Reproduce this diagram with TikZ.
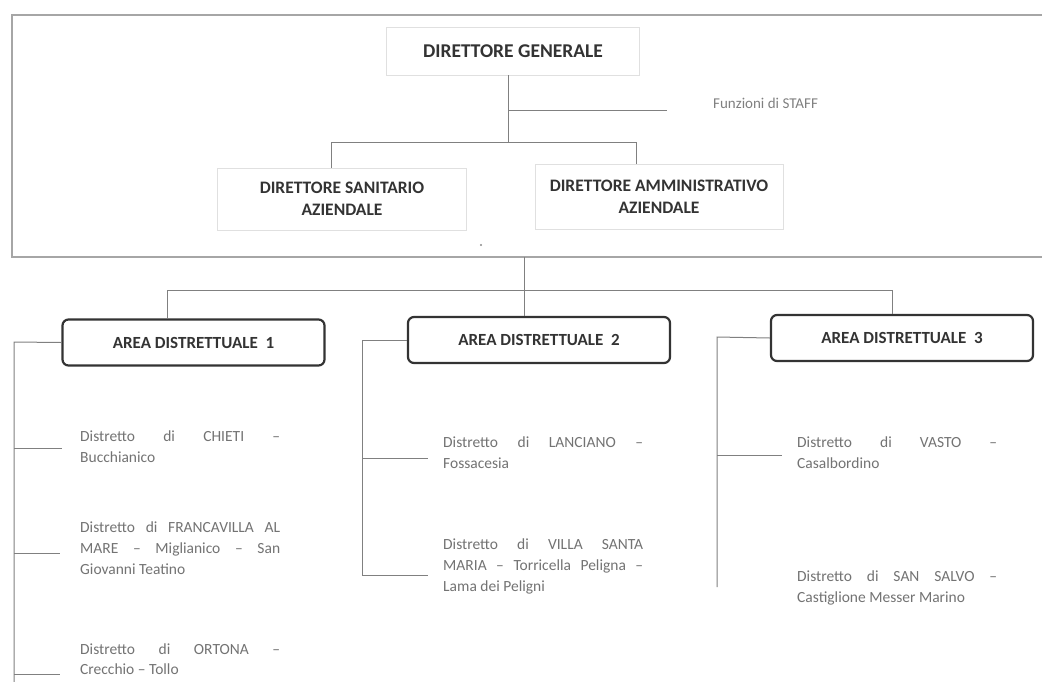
\documentclass[tikz,border=0pt]{standalone}
\usepackage{fontspec}
\setmainfont{Carlito}
\begin{document}
\begin{tikzpicture}[x=1pt,y=-1pt,
  conn/.style={draw=black!50, line width=1pt},
  frame/.style={draw=black!35, line width=1.1pt},
  dirbox/.style={draw=black!12, line width=0.8pt, align=center, text=black!80,
    font=\bfseries\fontsize{17.5}{22}\selectfont, inner sep=0pt},
  areabox/.style={draw=black!80, line width=2.2pt, rounded corners=6pt,
    minimum width=262pt, minimum height=46pt, text=black!80,
    font=\bfseries\fontsize{17}{20}\selectfont, inner sep=0pt},
  distr/.style={text width=200pt, align=justify, text=black!55,
    font=\fontsize{15.5}{21}\selectfont, inner sep=0pt, anchor=base west},
  stafftext/.style={text=black!50, font=\fontsize{15}{18}\selectfont, inner sep=0pt}
]
\useasboundingbox (0,0) rectangle (1042,681);
\fill[white] (0,0) rectangle (1042,681);

% outer frame of the top section
\draw[frame] (1050,15) -- (12,15) -- (12,257) -- (1050,257);
\fill[black!45] (481,245) circle[radius=1.2pt];

% top level
\node[dirbox, minimum width=253pt, minimum height=48pt, font=\bfseries\fontsize{19.5}{22}\selectfont] (dg) at (513,51) {DIRETTORE GENERALE};
\node[stafftext, anchor=west] (staff) at (713,103) {Funzioni di STAFF};
\node[dirbox, minimum width=249pt, minimum height=62pt] (ds) at (342,199) {DIRETTORE SANITARIO\\AZIENDALE};
\node[dirbox, minimum width=248pt, minimum height=65pt] (da) at (659,197) {DIRETTORE AMMINISTRATIVO\\AZIENDALE};

\coordinate (j1) at (508,142);
\coordinate (st) at (508,110);
\coordinate (stend) at (667,110);
\coordinate (jl) at (331,142);
\coordinate (jr) at (636,142);
\draw[conn] (dg.south -| j1) -- (j1);
\draw[conn] (st) -- (stend);
\draw[conn] (jl) -- (jr);
\draw[conn] (jl) -- (jl |- ds.north);
\draw[conn] (jr) -- (jr |- da.north);

% areas
\node[areabox] (a1) at (193.5,342.5) {AREA DISTRETTUALE\ \ 1};
\node[areabox] (a2) at (539,340) {AREA DISTRETTUALE\ \ 2};
\node[areabox] (a3) at (902,338) {AREA DISTRETTUALE\ \ 3};

\coordinate (fb) at (524,257);
\coordinate (hl) at (167,290);
\coordinate (hr) at (892,290);
\draw[conn] (fb) -- (fb |- a2.north);
\draw[conn] (hl) -- (hr);
\draw[conn] (hl) -- (hl |- a1.north);
\draw[conn] (hr) -- (hr |- a3.north);

% area 1 districts
\node[distr] (d11) at (80,441) {Distretto di CHIETI --\linebreak Bucchianico};
\node[distr] (d12) at (80,532) {Distretto di FRANCAVILLA AL\linebreak MARE -- Miglianico -- San\linebreak Giovanni Teatino};
\node[distr, font=\fontsize{15.5}{20}\selectfont] (d13) at (80,654) {Distretto di ORTONA --\linebreak Crecchio -- Tollo};
\coordinate (v1) at (14,342);
\coordinate (v1e) at (14,690);
\coordinate (b11) at (62,448);
\coordinate (b12) at (60,553);
\coordinate (b13) at (60,674);
\draw[conn] (a1.west) -- (v1) -- (v1e);
\draw[conn] (b11 -| v1) -- (b11);
\draw[conn] (b12 -| v1) -- (b12);
\draw[conn] (b13 -| v1) -- (b13);

% area 2 districts
\node[distr] (d21) at (443,447) {Distretto di LANCIANO --\linebreak Fossacesia};
\node[distr] (d22) at (443,549) {Distretto di VILLA SANTA\linebreak MARIA -- Torricella Peligna --\linebreak Lama dei Peligni};
\coordinate (v2) at (362,340);
\coordinate (b21) at (428,458);
\coordinate (b22) at (428,575);
\draw[conn] (a2.west) -- (v2) -- (v2 |- b22) -- (b22);
\draw[conn] (b21 -| v2) -- (b21);

% area 3 districts
\node[distr] (d31) at (797,447) {Distretto di VASTO --\linebreak Casalbordino};
\node[distr] (d32) at (797,581) {Distretto di SAN SALVO --\linebreak Castiglione Messer Marino};
\coordinate (v3) at (717,337);
\coordinate (v3e) at (717,587);
\coordinate (b31) at (782,455);
\draw[conn] (a3.west) -- (v3) -- (v3e);
\draw[conn] (b31 -| v3) -- (b31);
\end{tikzpicture}
\end{document}
